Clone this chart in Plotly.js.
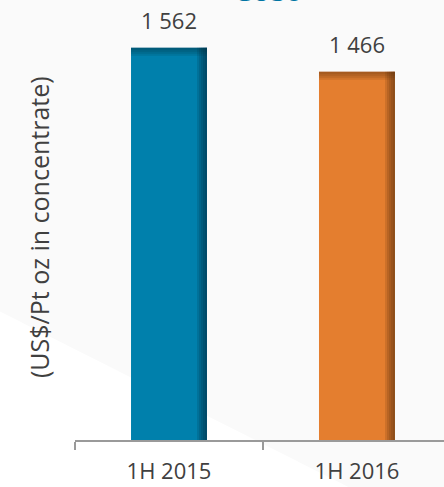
<!DOCTYPE html>
<html>
<head>
<meta charset="utf-8">
<script src="https://cdn.plot.ly/plotly-3.0.1.min.js"></script>
<style>html,body{margin:0;padding:0;background:#fff;}#chart{width:444px;height:487px;}</style>
</head>
<body>
<div id="chart"></div>
<script>
// Data
const categories = ["1H 2015", "1H 2016"];
const values = [1562, 1466];
const valueLabels = ["1 562", "1 466"];
const barColors = ["#0080AC", "#E47E2F"];
const edgeColors = ["#002f42", "#5e300f"];
const chartTitle = "Cost";
const yTitle = "(US$/Pt oz in concentrate)";

const BW = 0.404;
const traces = [
  {type: "bar", x: categories, y: values, width: BW,
   marker: {color: barColors, line: {width: 0}}, hoverinfo: "skip", showlegend: false}
];
// soft right-edge shading
for (let k = 1; k <= 5; k++) {
  const w = 0.0105 * k;
  traces.push({type: "bar", x: categories, y: values, width: w, offset: BW / 2 - w,
    marker: {color: edgeColors, opacity: 0.18, line: {width: 0}}, hoverinfo: "skip", showlegend: false});
}
// soft top shading
for (let k = 1; k <= 4; k++) {
  const h = 8 * k;
  traces.push({type: "bar", x: categories, y: values.map(() => h), base: values.map(v => v - h), width: BW,
    marker: {color: edgeColors, opacity: 0.14, line: {width: 0}}, hoverinfo: "skip", showlegend: false});
}

const annotations = categories.map((c, i) => ({
  x: c, y: values[i], xref: "x", yref: "y", text: valueLabels[i], showarrow: false,
  yanchor: "bottom", yshift: 11,
  font: {family: "Open Sans", size: 22, color: "#404040"}
}));
annotations.push({
  x: (266 - 75) / 369, y: 1.007, xref: "paper", yref: "paper", text: "<b>" + chartTitle + "</b>",
  showarrow: false, yanchor: "bottom", xanchor: "center", yshift: -2,
  font: {family: "Open Sans", size: 30, color: "#0075A3"}
});
annotations.push({
  x: (39 - 75) / 369, y: (440 - 227) / 427, xref: "paper", yref: "paper", text: yTitle,
  showarrow: false, textangle: -90, xanchor: "center", yanchor: "middle",
  font: {family: "Open Sans", size: 25, color: "#404040"}
});

const layout = {
  width: 444, height: 487,
  margin: {l: 75, r: 0, t: 13, b: 47},
  paper_bgcolor: "#fafafa",
  plot_bgcolor: "rgba(0,0,0,0)",
  barmode: "overlay",
  showlegend: false,
  xaxis: {
    type: "category", range: [-0.5, 1.463], tickson: "boundaries",
    ticks: "outside", ticklen: 8, tickcolor: "#9a9a9a", tickwidth: 1.5,
    showline: true, linecolor: "#9a9a9a", linewidth: 1.5, showgrid: false, zeroline: false,
    ticklabelstandoff: 11,
    tickfont: {family: "Open Sans", size: 22, color: "#404040"}
  },
  yaxis: {
    range: [0, 1700], showline: false, showticklabels: false, ticks: "", showgrid: false, zeroline: false
  },
  annotations: annotations,
  shapes: [{
    type: "path", xref: "paper", yref: "paper", layer: "below",
    path: "M -0.21 0.304 L -0.21 -0.12 L 0.764 -0.12 Z",
    fillcolor: "#ffffff", line: {width: 0}
  }]
};

Plotly.newPlot("chart", traces, layout, {displayModeBar: false, staticPlot: true});
</script>
</body>
</html>
